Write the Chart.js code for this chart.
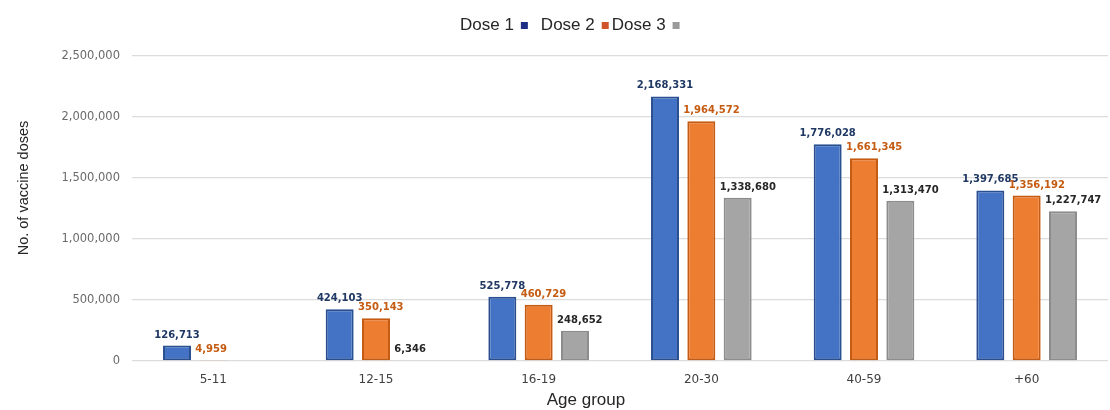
<!DOCTYPE html>
<html>
<head>
<meta charset="utf-8">
<script src="https://cdn.jsdelivr.net/npm/chart.js@4.4.1/dist/chart.umd.min.js"></script>
<style>
  html, body { margin: 0; padding: 0; background: #ffffff; }
  #wrap { width: 1110px; height: 410px; }
</style>
</head>
<body>
<div id="wrap"><canvas id="chart" width="1110" height="410"></canvas></div>
<script>
// Vaccine doses administered per age group
const ageGroups = ['5-11', '12-15', '16-19', '20-30', '40-59', '+60'];
const dose1 = [126713, 424103, 525778, 2168331, 1776028, 1397685];
const dose2 = [4959, 350143, 460729, 1964572, 1661345, 1356192];
const dose3 = [null, 6346, 248652, 1338680, 1313470, 1227747];
const yTicks = [0, 500000, 1000000, 1500000, 2000000, 2500000];
const seriesNames = ['Dose 1', 'Dose 2', 'Dose 3'];

const fmt = v => v.toLocaleString('en-US');

const fills   = ['#4472C4', '#ED7D31', '#A5A5A5'];
const borders = ['#2A4F90', '#C55A11', '#8C8C8C'];
const labelColors = ['#1F3864', '#C55A11', '#262626'];
const legendSwatches = ['#1F2F86', '#D0532A', '#9A9A9A'];

// Value labels above each bar
const valueLabels = {
  id: 'valueLabels',
  afterDatasetsDraw(chart) {
    const ctx = chart.ctx;
    ctx.save();
    ctx.font = 'bold 10px "DejaVu Sans"';
    ctx.textBaseline = 'alphabetic';
    chart.data.datasets.forEach((ds, di) => {
      const meta = chart.getDatasetMeta(di);
      meta.data.forEach((bar, i) => {
        const v = ds.data[i];
        if (v === null || v === undefined) return;
        const txt = fmt(v);
        ctx.fillStyle = labelColors[di];
        if (di === 0) {
          ctx.textAlign = 'center';
          ctx.fillText(txt, bar.x, bar.y - 8);
        } else {
          ctx.textAlign = 'left';
          ctx.fillText(txt, bar.x - bar.width / 2 - 4, bar.y - 8);
        }
      });
    });
    ctx.restore();
  }
};

// Legend row: name followed by its colour square
const legendRow = {
  id: 'legendRow',
  afterDraw(chart) {
    const ctx = chart.ctx;
    ctx.save();
    ctx.font = '17px "Liberation Sans", Arial, sans-serif';
    ctx.textBaseline = 'middle';
    ctx.textAlign = 'left';
    const gaps = [13, 3, 0];
    let x = 460;
    const y = 25;
    seriesNames.forEach((name, i) => {
      ctx.fillStyle = '#262626';
      ctx.fillText(name, x, y);
      x += ctx.measureText(name).width + 7;
      ctx.fillStyle = legendSwatches[i];
      ctx.fillRect(x, y - 3, 7, 7);
      x += 7 + gaps[i];
    });
    ctx.restore();
  }
};

// Axis titles
const axisTitles = {
  id: 'axisTitles',
  afterDraw(chart) {
    const ctx = chart.ctx;
    ctx.save();
    ctx.fillStyle = '#262626';
    ctx.textAlign = 'center';
    ctx.textBaseline = 'middle';
    ctx.font = '17px "Liberation Sans", Arial, sans-serif';
    ctx.fillText('Age group', 586, 400);
    ctx.translate(24, 188);
    ctx.rotate(-Math.PI / 2);
    ctx.font = '14.5px "Liberation Sans", Arial, sans-serif';
    ctx.fillText('No. of vaccine doses', 0, 0);
    ctx.restore();
  }
};

const mkSet = (label, data, i) => ({
  label,
  data,
  backgroundColor: fills[i],
  borderColor: borders[i],
  borderWidth: 2,
  borderSkipped: false,
  categoryPercentage: 0.67,
  barPercentage: 0.77
});

new Chart(document.getElementById('chart'), {
  type: 'bar',
  data: {
    labels: ageGroups,
    datasets: [
      mkSet(seriesNames[0], dose1, 0),
      mkSet(seriesNames[1], dose2, 1),
      mkSet(seriesNames[2], dose3, 2)
    ]
  },
  options: {
    responsive: false,
    animation: false,
    devicePixelRatio: 1,
    layout: { padding: { top: 56, right: 2, bottom: 0, left: 0 } },
    plugins: {
      legend: { display: false },
      tooltip: { enabled: false }
    },
    scales: {
      x: {
        grid: { display: false, drawTicks: false },
        border: { display: false },
        ticks: {
          color: '#404040',
          font: { family: 'DejaVu Sans', size: 12 },
          padding: 12,
          maxRotation: 0
        },
        afterFit(scale) { scale.height = 49; }
      },
      y: {
        min: 0,
        max: 2500000,
        afterBuildTicks(scale) { scale.ticks = yTicks.map(v => ({ value: v })); },
        grid: { color: '#DCDCDC', lineWidth: 1.3, drawTicks: false },
        border: { display: false },
        ticks: {
          color: '#6A6A6A',
          font: { family: 'DejaVu Sans', size: 11.5 },
          padding: 12,
          callback: v => fmt(v)
        },
        afterFit(scale) { scale.width = 132; }
      }
    }
  },
  plugins: [valueLabels, legendRow, axisTitles]
});
</script>
</body>
</html>
